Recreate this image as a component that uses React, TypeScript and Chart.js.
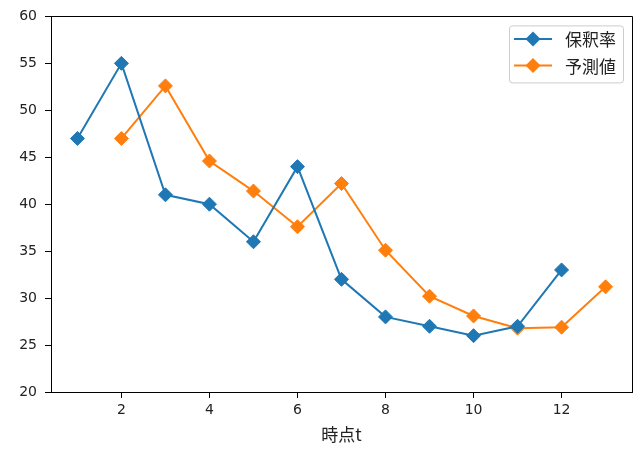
import React, { useEffect, useRef } from "react";
import { Chart, registerables } from "chart.js";

Chart.register(...registerables);

// ---- data ----
const seriesLabels = ["保釈率", "予測値"];
const rateTimes = [1, 2, 3, 4, 5, 6, 7, 8, 9, 10, 11, 12];
const rateValues = [47, 55, 41, 40, 36, 44, 32, 28, 27, 26, 27, 33];
const forecastTimes = [2, 3, 4, 5, 6, 7, 8, 9, 10, 11, 12, 13];
const forecastValues = [47, 52.6, 44.6, 41.4, 37.6, 42.2, 35.1, 30.2, 28.1, 26.8, 26.9, 31.2];
const xTickValues = [2, 4, 6, 8, 10, 12];
const xLabel = "時点t";
const seriesColors = ["#1f77b4", "#ff7f0e"];

const CJK = '"Noto Sans CJK JP", "DejaVu Sans", sans-serif';
const TICK_FONT = '"DejaVu Sans", sans-serif';

const framePlugin = {
  id: "frame",
  afterDraw(chart: any) {
    const { ctx, chartArea: a } = chart;
    ctx.save();
    ctx.strokeStyle = "#000";
    ctx.lineWidth = 1;
    const l = Math.round(a.left) + 0.5;
    const t = Math.round(a.top) + 0.5;
    const r = Math.round(a.right) + 0.5;
    const b = Math.round(a.bottom) + 0.5;
    ctx.beginPath();
    ctx.rect(l, t, r - l, b - t);
    ctx.stroke();
    ctx.restore();
  },
};

const legendPlugin = {
  id: "mplLegend",
  afterDraw(chart: any) {
    const { ctx, chartArea: a } = chart;
    const datasets = chart.data.datasets;
    ctx.save();
    ctx.font = `17px ${CJK}`;
    const textW = Math.max(...datasets.map((d: any) => ctx.measureText(d.label).width));
    const padL = 5, handleLen = 38, gap = 13, padR = 7;
    const rowH = 26.5;
    const boxW = padL + handleLen + gap + textW + padR;
    const boxH = 57;
    const right = a.right - 9;
    const top = a.top + 9;
    const left = right - boxW;
    ctx.beginPath();
    (ctx as any).roundRect(left + 0.5, top + 0.5, boxW, boxH, 3);
    ctx.fillStyle = "rgba(255,255,255,0.8)";
    ctx.fill();
    ctx.strokeStyle = "#cccccc";
    ctx.lineWidth = 1;
    ctx.stroke();
    datasets.forEach((d: any, i: number) => {
      const y = top + 13.5 + i * rowH;
      const x0 = left + padL;
      ctx.strokeStyle = d.borderColor;
      ctx.lineWidth = 2;
      ctx.beginPath();
      ctx.moveTo(x0, y);
      ctx.lineTo(x0 + handleLen, y);
      ctx.stroke();
      const cx = x0 + handleLen / 2;
      const r = 7.5;
      ctx.fillStyle = d.borderColor;
      ctx.beginPath();
      ctx.moveTo(cx - r, y);
      ctx.lineTo(cx, y - r);
      ctx.lineTo(cx + r, y);
      ctx.lineTo(cx, y + r);
      ctx.closePath();
      ctx.fill();
      ctx.fillStyle = "#222";
      ctx.textBaseline = "middle";
      ctx.textAlign = "left";
      ctx.fillText(d.label, x0 + handleLen + gap, y + 1);
    });
    ctx.restore();
  },
};

export default function App() {
  const ref = useRef<HTMLCanvasElement>(null);

  useEffect(() => {
    document.body.style.margin = "0";
    const canvas = ref.current!;
    const makeData = (xs: number[], ys: number[]) => xs.map((x, i) => ({ x, y: ys[i] }));
    const chart = new Chart(canvas, {
      type: "line",
      data: {
        datasets: [
          {
            label: seriesLabels[0],
            data: makeData(rateTimes, rateValues),
            borderColor: seriesColors[0],
            backgroundColor: seriesColors[0],
            borderWidth: 2,
            pointStyle: "rectRot",
            pointRadius: 7,
            pointBorderWidth: 1,
            pointBackgroundColor: seriesColors[0],
            pointBorderColor: seriesColors[0],
            tension: 0,
          },
          {
            label: seriesLabels[1],
            data: makeData(forecastTimes, forecastValues),
            borderColor: seriesColors[1],
            backgroundColor: seriesColors[1],
            borderWidth: 2,
            pointStyle: "rectRot",
            pointRadius: 7,
            pointBorderWidth: 1,
            pointBackgroundColor: seriesColors[1],
            pointBorderColor: seriesColors[1],
            tension: 0,
          },
        ],
      },
      options: {
        animation: false,
        responsive: false,
        devicePixelRatio: 1,
        layout: { padding: { top: 14, right: 10, left: 0, bottom: 0 } },
        plugins: {
          legend: { display: false },
          tooltip: { enabled: false },
        },
        scales: {
          x: {
            type: "linear",
            min: 0.4,
            max: 13.6,
            afterBuildTicks: (scale: any) => {
              scale.ticks = xTickValues.map((v) => ({ value: v }));
            },
            afterFit: (scale: any) => {
              scale.height = 61;
            },
            grid: {
              display: true,
              drawOnChartArea: false,
              drawTicks: true,
              tickLength: 6,
              tickColor: "#000",
            },
            border: { display: true, color: "#000", width: 1 },
            ticks: {
              color: "#222",
              font: { family: TICK_FONT, size: 14 },
              padding: 4,
              maxRotation: 0,
              callback: (v: any) => String(v),
            },
            title: {
              display: true,
              text: xLabel,
              color: "#222",
              font: { family: CJK, size: 17 },
              padding: { top: 0, bottom: 8 },
            },
          },
          y: {
            type: "linear",
            min: 20,
            max: 60,
            afterFit: (scale: any) => {
              scale.width = 51;
            },
            grid: {
              display: true,
              drawOnChartArea: false,
              drawTicks: true,
              tickLength: 6,
              tickColor: "#000",
            },
            border: { display: true, color: "#000", width: 1 },
            ticks: {
              stepSize: 5,
              color: "#222",
              font: { family: TICK_FONT, size: 14 },
              padding: 8,
              callback: (v: any) => String(v),
            },
          },
        },
      },
      plugins: [framePlugin, legendPlugin],
    });
    return () => chart.destroy();
  }, []);

  return (
    <div style={{ position: "absolute", left: 0, top: 0, width: 642, height: 453, background: "#fff" }}>
      <canvas ref={ref} width={642} height={453} style={{ display: "block", width: 642, height: 453 }} />
    </div>
  );
}
